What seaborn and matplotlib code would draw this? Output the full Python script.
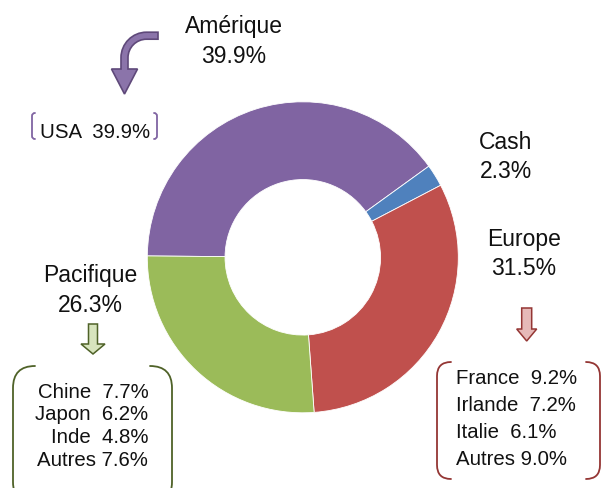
import matplotlib
matplotlib.use("Agg")
import matplotlib.pyplot as plt
import seaborn as sns
from matplotlib.patches import FancyArrow, PathPatch
from matplotlib.path import Path

sns.set_theme(style="white")
plt.rcParams["font.family"] = ["Liberation Sans", "DejaVu Sans"]

# main split
regions = ["Amérique", "Cash", "Europe", "Pacifique"]
shares = [39.9, 2.3, 31.5, 26.3]
colors = ["#8064A2", "#4F81BD", "#C0504D", "#9BBB59"]

# details per region
america_countries = ["USA"]
america_shares = [39.9]
europe_countries = ["France", "Irlande", "Italie", "Autres"]
europe_shares = [9.2, 7.2, 6.1, 9.0]
pacific_countries = ["Chine", "Japon", "Inde", "Autres"]
pacific_shares = [7.7, 6.2, 4.8, 7.6]


def detail_lines(names, values):
    out = []
    for n, v in zip(names, values):
        sep = " " if n == "Autres" else "  "
        out.append(f"{n}{sep}{v:.1f}%")
    return "\n".join(out)


def bracket(ax, x, top, bottom, r, side, color, lw=1.3):
    # side=+1 opens to the right (left bracket), -1 opens to the left
    verts = [(x + side * r, top), (x, top), (x, top + r),
             (x, bottom - r), (x, bottom), (x + side * r, bottom)]
    codes = [Path.MOVETO, Path.CURVE3, Path.CURVE3,
             Path.LINETO, Path.CURVE3, Path.CURVE3]
    ax.add_patch(PathPatch(Path(verts, codes), fill=False, edgecolor=color,
                           lw=lw, capstyle="round"))


def bent_arrow(ax, x0, y0, xs, y_head, y_tip, r, hw, head_w, fc, ec):
    # arrow going left from (x0, y0), bending down into a vertical shaft at xs
    k = 0.5523
    ccx, ccy = xs + r, y0 + r
    ro, ri = r + hw, r - hw
    verts = [(x0, y0 - hw), (ccx, y0 - hw),
             (ccx - k * ro, ccy - ro), (xs - hw, ccy - k * ro), (xs - hw, ccy),
             (xs - hw, y_head), (xs - head_w / 2, y_head), (xs, y_tip),
             (xs + head_w / 2, y_head), (xs + hw, y_head), (xs + hw, ccy),
             (xs + hw, ccy - k * ri), (ccx - k * ri, y0 + hw), (ccx, y0 + hw),
             (x0, y0 + hw), (x0, y0 - hw)]
    codes = [Path.MOVETO, Path.LINETO,
             Path.CURVE4, Path.CURVE4, Path.CURVE4,
             Path.LINETO, Path.LINETO, Path.LINETO,
             Path.LINETO, Path.LINETO, Path.LINETO,
             Path.CURVE4, Path.CURVE4, Path.CURVE4,
             Path.LINETO, Path.CLOSEPOLY]
    ax.add_patch(PathPatch(Path(verts, codes), facecolor=fc, edgecolor=ec,
                           lw=1.2, joinstyle="miter"))


W, H = 601, 489
fig = plt.figure(figsize=(W / 100, H / 100), dpi=100)
fig.patch.set_facecolor("white")

# donut
cx, cy, rad = 302.8, 258.3, 155.5
ax = fig.add_axes([(cx - rad) / W, (H - cy - rad) / H, 2 * rad / W, 2 * rad / H])
ax.pie(shares, colors=colors, startangle=179.5, counterclock=False,
       wedgeprops=dict(width=0.5, edgecolor="white", linewidth=0.6))
ax.set_xlim(-1, 1)
ax.set_ylim(-1, 1)
ax.axis("off")

# overlay in pixel units for labels and callouts
ov = fig.add_axes([0, 0, 1, 1], zorder=5)
ov.set_xlim(0, W)
ov.set_ylim(H, 0)
ov.axis("off")
ov.patch.set_alpha(0)

big = 16.5
small = 14.7
# y = baseline of the last line
ov.text(233.5, 62.7, f"{regions[0]}\n{shares[0]:.1f}%", fontsize=big,
        ha="center", va="baseline", linespacing=1.36, color="#111111")
ov.text(506, 178.3, f"{regions[1]}\n{shares[1]:.1f}%", fontsize=big,
        ha="center", va="baseline", linespacing=1.36, color="#111111")
ov.text(524, 275, f"{regions[2]}\n{shares[2]:.1f}%", fontsize=big,
        ha="center", va="baseline", linespacing=1.36, color="#111111")
ov.text(90.5, 311.7, f"{regions[3]}\n{shares[3]:.1f}%", fontsize=big,
        ha="center", va="baseline", linespacing=1.36, color="#111111")

# Amérique: bent arrow + USA bracket
bent_arrow(ov, 158, 36.7, 124.5, 70, 95, 22, 3.5, 26, "#8B74AA", "#5F497A")
ov.text(40, 138.3, detail_lines(america_countries, america_shares),
        fontsize=small, ha="left", va="baseline", color="#111111")
bracket(ov, 32, 114, 140, 3, 1, "#8064A2")
bracket(ov, 157, 114, 140, 3, -1, "#8064A2")

# Europe: arrow + box
ov.add_patch(FancyArrow(526.7, 309, 0, 33, width=10, head_width=20, head_length=12,
                        length_includes_head=True, facecolor="#E6B9B8",
                        edgecolor="#943634", lw=1.1))
ov.text(456, 465, detail_lines(europe_countries, europe_shares), fontsize=small,
        ha="left", va="baseline", linespacing=1.53, color="#111111")
bracket(ov, 437, 363, 480, 14, 1, "#943634")
bracket(ov, 600, 363, 480, 14, -1, "#943634")

# Pacifique: arrow + box
ov.add_patch(FancyArrow(93, 325, 0, 30, width=9, head_width=24, head_length=10,
                        length_includes_head=True, facecolor="#D7E4BD",
                        edgecolor="#4F6228", lw=1.1))
ov.text(148.3, 466, detail_lines(pacific_countries, pacific_shares), fontsize=small,
        ha="right", va="baseline", linespacing=1.25, color="#111111")
bracket(ov, 13, 367, 505, 22, 1, "#4F6228")
bracket(ov, 172, 367, 505, 22, -1, "#4F6228")

fig.savefig("out.png", dpi=100, facecolor="white")
